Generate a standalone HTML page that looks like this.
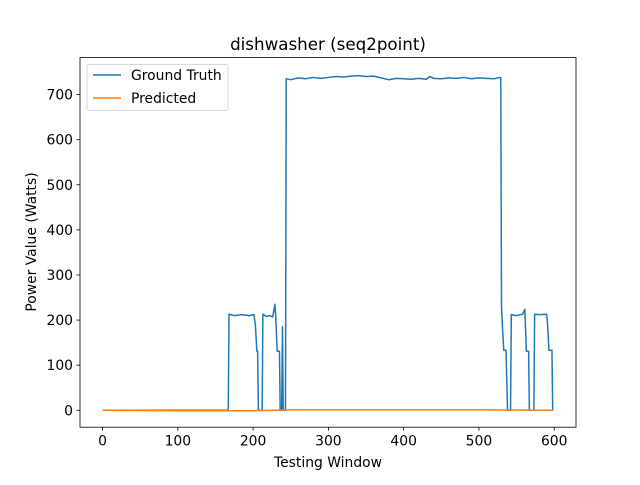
<!DOCTYPE html>
<html><head><meta charset="utf-8"><style>
body{margin:0;background:#fff}
svg{font-family:"DejaVu Sans","Liberation Sans",sans-serif}
</style></head><body>
<svg id="c" width="640" height="480"></svg>
<script>
const gtX=[0,167,168,175,185,195,201,203,205,206,207,212,213,218,222,226,229,230,232,233,235,236,238,239,240,243,244,250,260,270,280,290,300,310,320,330,340,350,360,370,380,390,400,410,420,430,435,440,450,460,470,480,490,500,510,520,525,529,530,531,533,536,538,542,543,550,558,561,563,566,567,573,574,580,590,591,593,594,597,598];
const gtY=[0,0,213,210,212,210,212,190,131,131,0,0,213,208,210,207,235,210,131,131,131,0,0,185,0,0,735,733,737,735,738,736,738,740,739,741,742,740,741,737,733,736,735,734,736,734,740,736,735,737,736,738,735,737,736,735,737,738,230,193,133,133,0,0,212,210,213,224,131,131,0,0,213,212,213,195,133,133,133,0];
const predX=[0,100,200,250,300,400,500,599];
const predY=[0,-1,-1,1,1,1,1,0];
const xTicks=[0,100,200,300,400,500,600];
const yTicks=[0,100,200,300,400,500,600,700];
const NS="http://www.w3.org/2000/svg";
const svg=document.getElementById('c');
const L=80,R=576,T=57.6,B=427.2;
const x0=-29.95,x1=628.95,y0=-37.5,y1=782;
const sx=v=>L+(v-x0)/(x1-x0)*(R-L);
const sy=v=>B-(v-y0)/(y1-y0)*(B-T);
function mk(t,a,txt){const e=document.createElementNS(NS,t);for(const k in a)e.setAttribute(k,a[k]);if(txt!=null)e.textContent=txt;svg.appendChild(e);return e;}
function line(xs,ys,col,name){const d=xs.map((v,i)=>(i?'L':'M')+sx(v).toFixed(2)+','+sy(ys[i]).toFixed(2)).join('');const p=mk('path',{d:d,fill:'none',stroke:col,'stroke-width':1.5,'stroke-linejoin':'round'});

}
line(gtX,gtY,'#1f77b4','ground-truth-line');
line(predX,predY,'#ff7f0e','predicted-line');
const fr=mk('rect',{x:L,y:T,width:R-L,height:B-T,fill:'none',stroke:'#000','stroke-width':0.8});


xTicks.forEach(v=>{const x=sx(v);mk('line',{x1:x,x2:x,y1:B,y2:B+3.5,stroke:'#000','stroke-width':0.8});
const t=mk('text',{x:x,y:B+18.5,'text-anchor':'middle','font-size':13.9},v);

});
yTicks.forEach(v=>{const y=sy(v);mk('line',{x1:L-3.5,x2:L,y1:y,y2:y,stroke:'#000','stroke-width':0.8});
const t=mk('text',{x:L-7,y:y+5,'text-anchor':'end','font-size':13.9},v);

});
const ti=mk('text',{x:328,y:50,'text-anchor':'middle','font-size':16.7},'dishwasher (seq2point)');


const xl=mk('text',{x:328,y:467,'text-anchor':'middle','font-size':13.9},'Testing Window');


const yl=mk('text',{x:36,y:242,'text-anchor':'middle','font-size':13.9,transform:'rotate(-90 36 242)'},'Power Value (Watts)');


const lg=mk('rect',{x:87,y:64.5,width:141,height:46,rx:2,fill:'#fff','fill-opacity':0.8,stroke:'#ccc','stroke-width':0.8});


[['Ground Truth','#1f77b4',75],['Predicted','#ff7f0e',98]].forEach(([n,c,y])=>{mk('line',{x1:93,x2:121,y1:y,y2:y,stroke:c,'stroke-width':1.5});
const t=mk('text',{x:131,y:y+5,'font-size':13.9},n);

});
</script>
</body></html>
